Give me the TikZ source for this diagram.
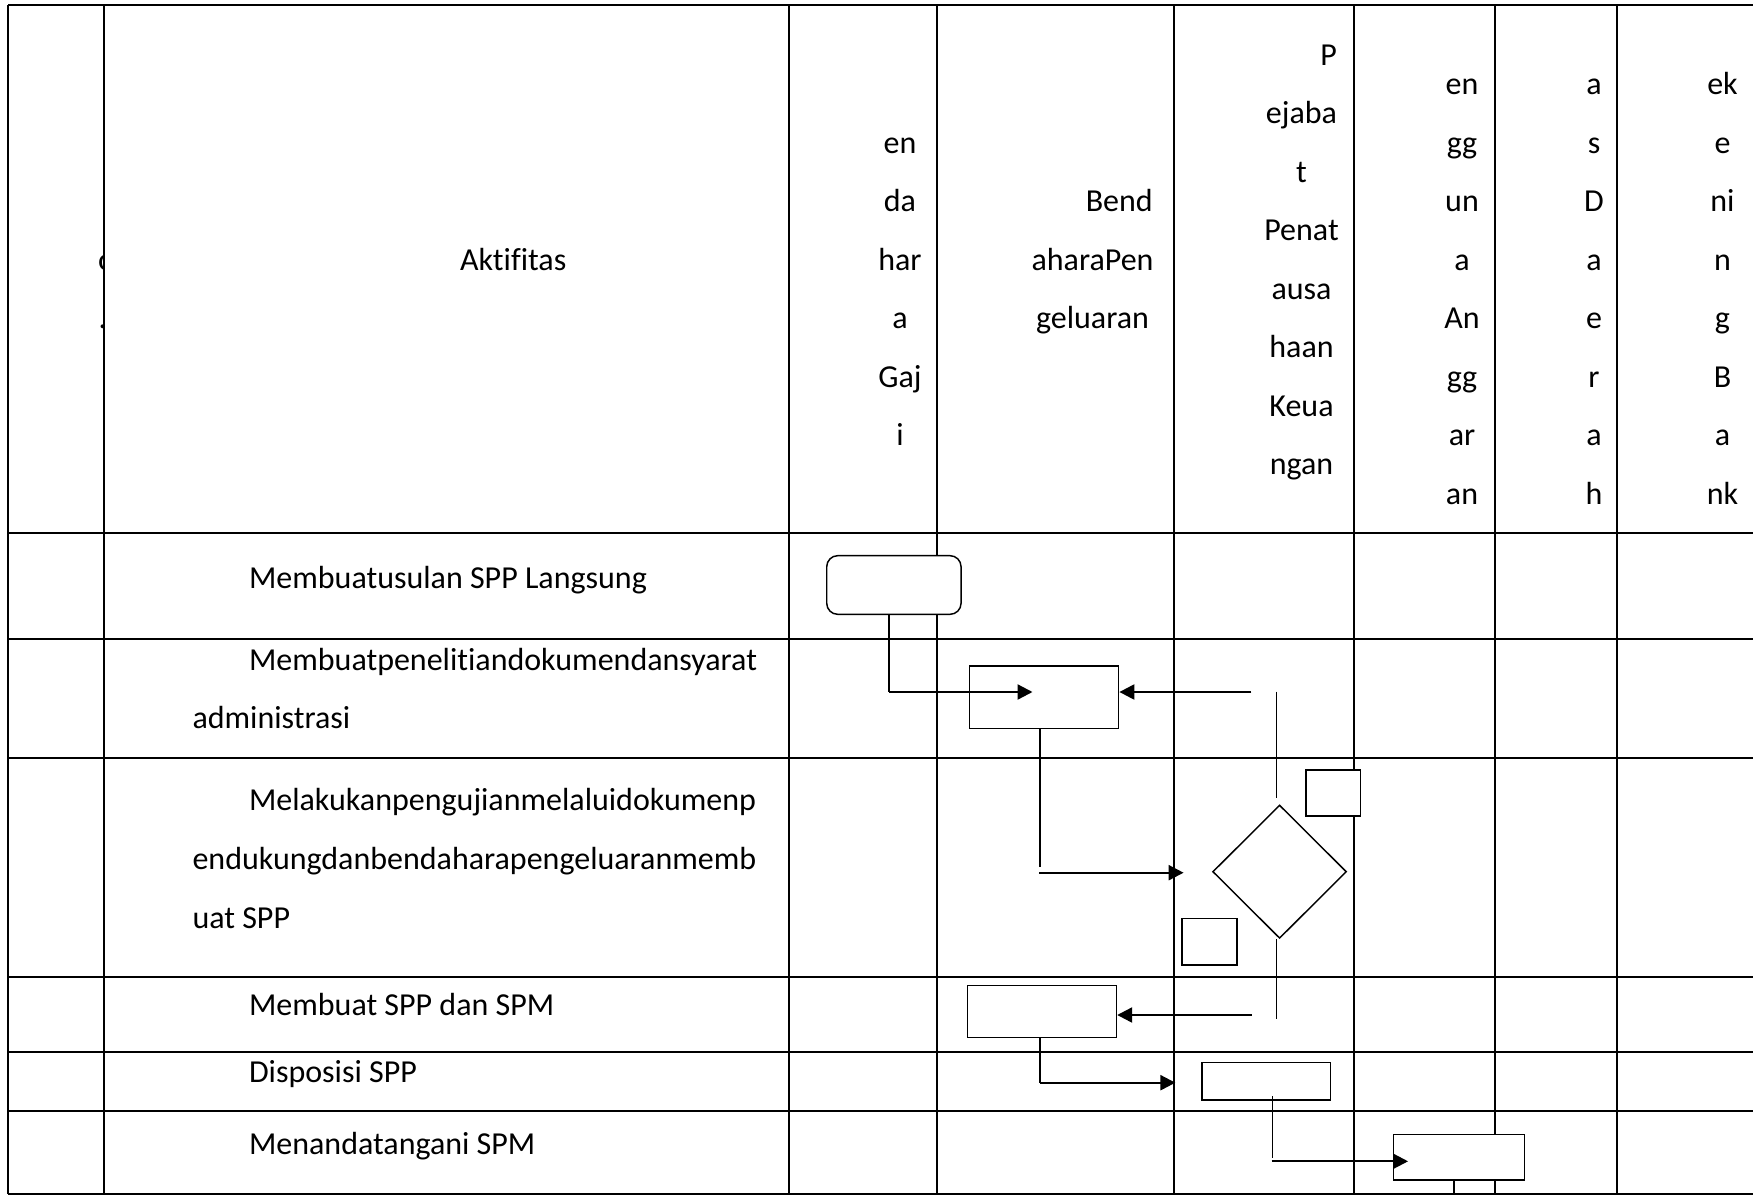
\documentclass[tikz,border=0pt]{standalone}
\usepackage{fontspec}
\setmainfont{Carlito}[Ligatures=NoCommon]
\usetikzlibrary{arrows.meta,shapes.geometric}
\begin{document}
\begin{tikzpicture}[x=0.375pt,y=-0.375pt,
  grid/.style={line width=0.85pt},
  box/.style={draw,fill=white,line width=0.55pt,inner sep=0pt,rectangle},
  rbox/.style={box,rounded corners=4.1pt},
  dec/.style={draw,fill=white,line width=0.55pt,inner sep=0pt,diamond,aspect=1},
  link/.style={line width=0.5pt},
  flow/.style={line width=0.85pt,-{Triangle[length=5.6pt,width=5.6pt]}},
  lbl/.style={inner sep=0pt,font=\fontsize{12pt}{14pt}\selectfont},
]
\useasboundingbox (0,0) rectangle (1753,1195);

% table rules
\foreach \y in {5,533,639,758,977,1052,1111,1194}
  \draw[grid] (8,\y) -- (1753,\y);
\foreach \x in {8,104,789,937,1174,1354,1495,1617}
  \draw[grid] (\x,5) -- (\x,1194);

% header: first column (text cut off by the cell)
\begin{scope}
  \clip (8,5) rectangle (104,533);
  \node[lbl,anchor=base west] (no1) at (97.5,270.2) {o};
  \node[lbl,anchor=base west] (no2) at (98,328.7) {.};
\end{scope}

\node[lbl,anchor=base west] (akt) at (459.5,270.2) {Aktifitas};

\foreach \t [count=\i from 0] in {en,da,har,a,Gaj,i}
  \node[lbl,anchor=base] (gaji\i) at (900,{153.2+58.5*\i}) {\t};

\node[lbl,anchor=base east] (bend0) at (1153.3,211.7) {Bend};
\node[lbl,anchor=base] (bend1) at (1092.5,270.2) {aharaPen};
\node[lbl,anchor=base] (bend2) at (1092.5,328.7) {geluaran};

\node[lbl,anchor=base east] (pptk0) at (1337.3,65.4) {P};
\foreach \t [count=\i from 1] in {ejaba,t,Penat,ausa,haan,Keua,ngan}
  \node[lbl,anchor=base] (pptk\i) at (1301.5,{65.4+58.5*\i}) {\t};

\foreach \t [count=\i from 0] in {en,gg,un,a,An,gg,ar,an}
  \node[lbl,anchor=base] (pa\i) at (1462,{94.7+58.5*\i}) {\t};

\foreach \t [count=\i from 0] in {a,s,D,a,e,r,a,h}
  \node[lbl,anchor=base] (kd\i) at (1594,{94.7+58.5*\i}) {\t};

\foreach \t [count=\i from 0] in {ek,e,ni,n,g,B,a,nk}
  \node[lbl,anchor=base] (bk\i) at (1722.5,{94.7+58.5*\i}) {\t};

% activity column
\node[lbl,anchor=base west] (act1) at (248.5,588.8) {Membuatusulan SPP Langsung};
\node[lbl,anchor=base west] (act2a) at (248.5,670) {Membuatpenelitiandokumendansyarat};
\node[lbl,anchor=base west] (act2b) at (192,728.5) {administrasi};
\node[lbl,anchor=base west] (act3a) at (248.5,810.5) {Melakukanpengujianmelaluidokumenp};
\node[lbl,anchor=base west] (act3b) at (192,869.3) {endukungdanbendaharapengeluaranmemb};
\node[lbl,anchor=base west] (act3c) at (192,928) {uat SPP};
\node[lbl,anchor=base west] (act4) at (248.5,1015) {Membuat SPP dan SPM};
\node[lbl,anchor=base west] (act5) at (248.5,1082.4) {Disposisi SPP};
\node[lbl,anchor=base west] (act6) at (248.5,1154) {Menandatangani SPM};

% flow symbols
\node[rbox,minimum width=50.36pt,minimum height=21.98pt] (usul) at (893.9,585) {};
\node[box,minimum width=55.84pt,minimum height=23.36pt] (teliti) at (1044.2,697.2) {};
\node[dec,minimum width=50.2pt,minimum height=50pt] (uji) at (1279.6,871.7) {};
\node[box,minimum width=20.36pt,minimum height=17.25pt] (sqa) at (1333.2,793) {};
\node[box,minimum width=20.7pt,minimum height=17.36pt] (sqb) at (1209.6,941.9) {};
\node[box,minimum width=55.84pt,minimum height=19.5pt] (spm) at (1042,1011.7) {};
\node[box,minimum width=48.2pt,minimum height=14.1pt] (disp) at (1266.3,1081.2) {};
\node[box,minimum width=49.3pt,minimum height=17.1pt] (ttd) at (1459,1157.2) {};

% connectors
\coordinate (k1) at (889,692);
\coordinate (t1) at (1032.5,692);
\draw[link] (usul.south -| k1) -- (k1);
\draw[flow] (k1) -- (t1);

\coordinate (q1) at (1251.3,692);
\draw[flow] (q1) -- (teliti.east |- q1);

\coordinate (v1a) at (1276.6,691.7);
\coordinate (v1b) at (1276.6,798.3);
\draw[link] (v1a) -- (v1b);

\coordinate (k2) at (1040,866.7);
\draw[link] (teliti.south -| k2) -- (k2);
\coordinate (h2a) at (1039.4,872.7);
\coordinate (h2b) at (1183.6,872.7);
\draw[flow] (h2a) -- (h2b);

\coordinate (v2) at (1276.6,1018.7);
\draw[link] (v2 |- uji.south) -- (v2);

\coordinate (q2) at (1251.7,1015);
\draw[flow] (q2) -- (spm.east |- q2);

\coordinate (k3) at (1040,1082.7);
\coordinate (t3) at (1175.4,1082.7);
\draw[link] (spm.south -| k3) -- (k3);
\draw[flow] (k3) -- (t3);

\coordinate (v3a) at (1272.8,1096);
\coordinate (v3b) at (1272.8,1157.7);
\draw[link] (v3a) -- (v3b);
\coordinate (h3a) at (1271.6,1161.3);
\coordinate (h3b) at (1408.1,1161.3);
\draw[flow] (h3a) -- (h3b);

\coordinate (v4) at (1454,1195);
\draw[link] (ttd.south -| v4) -- (v4);
\end{tikzpicture}
\end{document}
